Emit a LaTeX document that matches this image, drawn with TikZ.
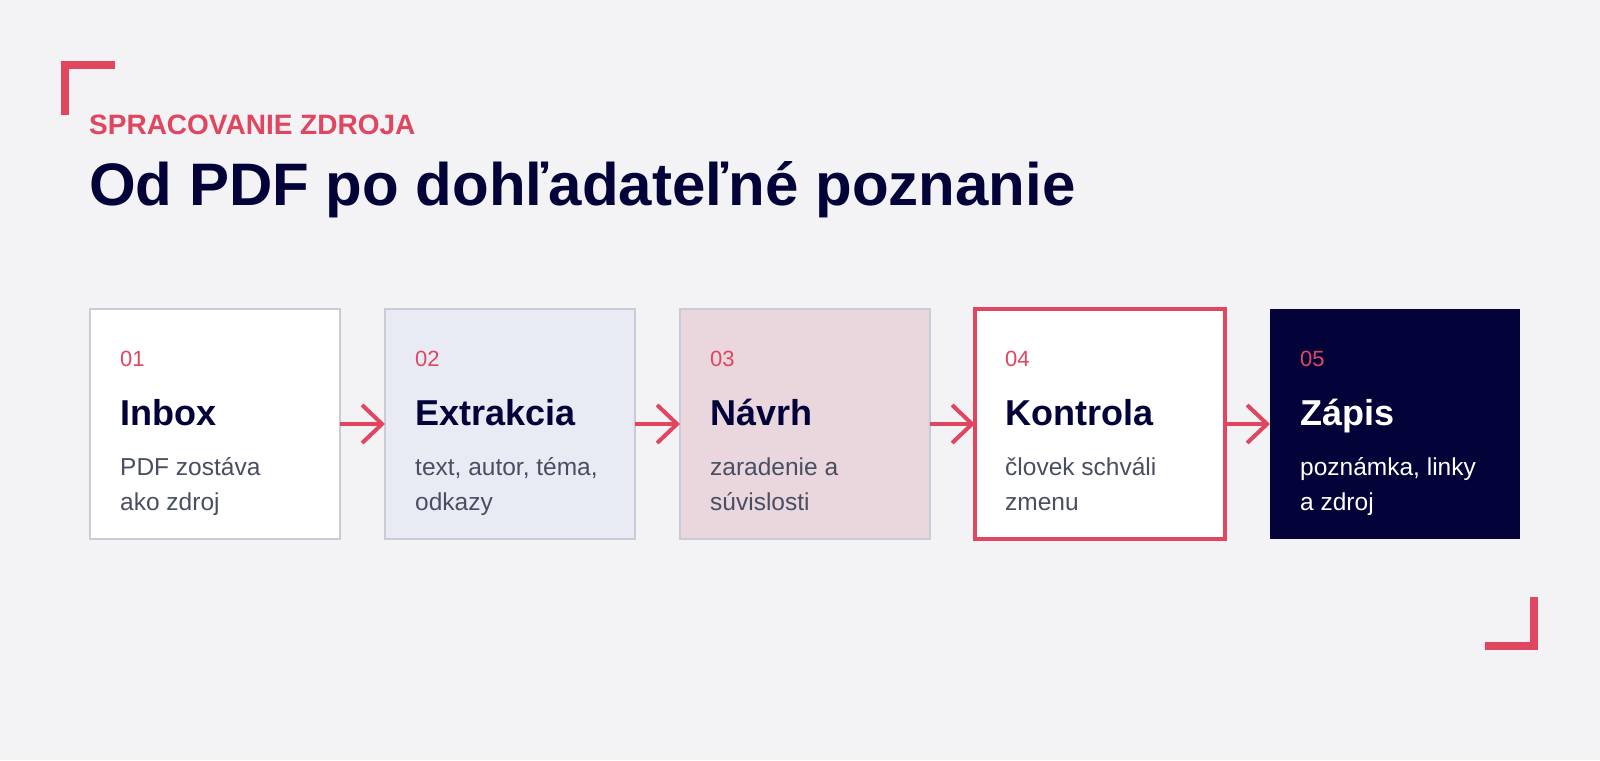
\documentclass[tikz,border=0pt]{standalone}
\usepackage{fontspec}
\setmainfont{Liberation Sans}
\usetikzlibrary{positioning, arrows.meta}

\definecolor{accent}{HTML}{E0465F}
\definecolor{navy}{HTML}{03033A}
\definecolor{paper}{HTML}{F3F3F5}
\definecolor{frame}{HTML}{C9CBD6}
\definecolor{bluefill}{HTML}{E9EBF4}
\definecolor{rosefill}{HTML}{EAD7DE}
\definecolor{slate}{HTML}{4A4E63}

\begin{document}
\begin{tikzpicture}[x=1pt,y=1pt,>={Straight Barb[length=20pt,width=38pt]},node distance=45pt,
  stage/.style={rectangle,minimum width=250pt,minimum height=230pt,inner sep=0pt,outer sep=0pt,draw=frame,line width=2.5pt,fill=white},
  stepnum/.style={anchor=base west,inner sep=0pt,text=accent,font=\fontsize{22}{22}\selectfont},
  steptitle/.style={anchor=base west,inner sep=0pt,text=navy,font=\fontsize{36}{36}\selectfont\bfseries},
  stepdesc/.style={anchor=base west,inner sep=0pt,text=slate,align=left,font=\fontsize{24.5}{35}\selectfont},
  flow/.style={->,draw=accent,line width=4pt},
  corner/.style={draw=accent,line width=8pt,miter limit=4}]
  \useasboundingbox[fill=paper] (0,0) rectangle (1600,-760);

  % heading
  \node[anchor=base west,inner sep=0pt,text=accent,font=\fontsize{28}{28}\selectfont\bfseries] (kicker) at (89,-134) {SPRACOVANIE ZDROJA};
  \node[anchor=base west,inner sep=0pt,text=navy,font=\fontsize{60}{60}\selectfont\bfseries] (headline) at (89,-205) {Od PDF po dohľadateľné poznanie};

  % corners
  \draw[corner] (65,-115) -- (65,-65) -- (115,-65);
  \draw[corner] (1485,-646) -- (1534,-646) -- (1534,-597);

  %1
  \node[stage] (b1) at (215,-424) {};
  \node[stepnum] (n1) at ([xshift=30pt,yshift=-57pt]b1.north west) {01};
  \node[steptitle] (t1) at ([xshift=30pt,yshift=-116pt]b1.north west) {Inbox};
  \node[stepdesc] (d1) at ([xshift=30pt,yshift=-201pt]b1.north west) {PDF zostáva\\ako zdroj};
  %2
  \node[stage,fill=bluefill] (b2) [right=of b1] {};
  \node[stepnum] (n2) at ([xshift=30pt,yshift=-57pt]b2.north west) {02};
  \node[steptitle] (t2) at ([xshift=30pt,yshift=-116pt]b2.north west) {Extrakcia};
  \node[stepdesc] (d2) at ([xshift=30pt,yshift=-201pt]b2.north west) {text, autor, téma,\\odkazy};
  %3
  \node[stage,fill=rosefill] (b3) [right=of b2] {};
  \node[stepnum] (n3) at ([xshift=30pt,yshift=-57pt]b3.north west) {03};
  \node[steptitle] (t3) at ([xshift=30pt,yshift=-116pt]b3.north west) {Návrh};
  \node[stepdesc] (d3) at ([xshift=30pt,yshift=-201pt]b3.north west) {zaradenie a\\súvislosti};
  %4
  \node[stage,draw=accent,line width=3.5pt] (b4) [right=of b3] {};
  \node[stepnum] (n4) at ([xshift=30pt,yshift=-57pt]b4.north west) {04};
  \node[steptitle] (t4) at ([xshift=30pt,yshift=-116pt]b4.north west) {Kontrola};
  \node[stepdesc] (d4) at ([xshift=30pt,yshift=-201pt]b4.north west) {človek schváli\\zmenu};
  %5
  \node[stage,draw=none,fill=navy] (b5) [right=of b4] {};
  \node[stepnum] (n5) at ([xshift=30pt,yshift=-57pt]b5.north west) {05};
  \node[steptitle,text=white] (t5) at ([xshift=30pt,yshift=-116pt]b5.north west) {Zápis};
  \node[stepdesc,text=white] (d5) at ([xshift=30pt,yshift=-201pt]b5.north west) {poznámka, linky\\a zdroj};

  \draw[flow] (b1) -- (b2);
  \draw[flow] (b2) -- (b3);
  \draw[flow] (b3) -- (b4);
  \draw[flow] (b4) -- (b5);
\end{tikzpicture}
\end{document}
